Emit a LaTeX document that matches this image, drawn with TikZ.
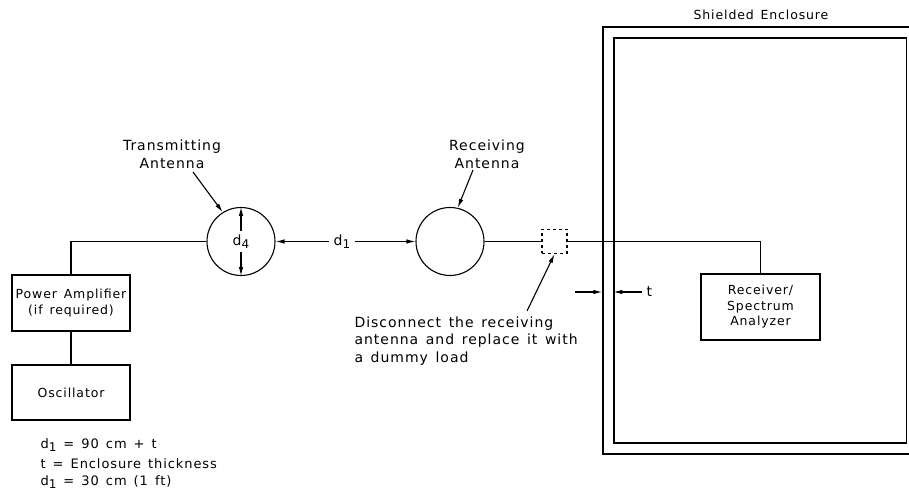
\documentclass[tikz,border=0pt]{standalone}
\usepackage{fontspec}
\setmainfont{DejaVu Sans}[LetterSpace=7,WordSpace=1.4]
\usetikzlibrary{arrows.meta}
\newcommand\mysub[1]{\raisebox{-0.45ex}{\fontsize{12}{12}\selectfont #1}}
\begin{document}
\begin{tikzpicture}[x=1pt,y=-1pt, line width=1.1pt,
  box/.style={draw, rectangle, inner sep=0pt, font=\fontsize{12.5}{15.5}\selectfont, align=center},
  ant/.style={draw, circle, minimum size=68pt, inner sep=0pt},
  encl/.style={draw, rectangle, inner sep=0pt, line width=1.4pt},
  lbl/.style={inner sep=0pt, font=\fontsize{14}{18}\selectfont, align=center},
  frm/.style={inner sep=0pt, font=\fontsize{13}{18}\selectfont, anchor=west},
  arr/.style={-{Latex[length=9pt,width=4.5pt]}},
]
\clip (0,0) rectangle (909,502);
% enclosure
\node[encl, minimum width=312pt, minimum height=427pt] (outer) at (759,240.5) {};
\node[encl, minimum width=292.5pt, minimum height=405pt] (inner) at (760.25,240.5) {};
\node[lbl, font=\fontsize{12.5}{15}\selectfont] (encllbl) at (761,15) {Shielded Enclosure};
% boxes
\node[box, minimum width=118pt, minimum height=56pt] (pa) at (71,303) {Power Amplifier\\(if required)};
\node[box, minimum width=118pt, minimum height=55pt] (osc) at (71,392.5) {Oscillator};
\node[box, minimum width=119pt, minimum height=66pt] (recv) at (760.5,307) {Receiver/\\Spectrum\\Analyzer};
% antennas
\node[ant] (tx) at (241,241.5) {};
\node[ant] (rx) at (450,241.5) {};
\node[draw, dashed, minimum width=25pt, minimum height=24pt, inner sep=0pt] (dummy) at (554.5,241.5) {};
% connections
\draw (pa.north) |- (tx.west);
\draw (pa.south) -- (osc.north);
\draw (rx.east) -- (dummy.west);
\draw (dummy.east) -| (recv.north);
% d4
\node[lbl, inner sep=3pt] (d4) at (tx.center) {d\mysub{4}};
\draw[arr] (d4.north) -- (tx.north);
\draw[arr] (d4.south) -- (tx.south);
% d1
\node[lbl, inner sep=4pt] (d1) at (342,241.5) {d\mysub{1}};
\draw[arr] (d1.west) -- (tx.east);
\draw[arr] (d1.east) -- (rx.west);
% labels
\node[lbl] (txl) at (172,154) {Transmitting\\Antenna};
\coordinate (txa) at (193,172);
\draw[arr] (txa) -- (tx.122);
\node[lbl] (rxl) at (487,154) {Receiving\\Antenna};
\coordinate (rxa) at (473,170);
\draw[arr] (rxa) -- (rx.77);
\node[lbl, align=left, anchor=north west, font=\fontsize{14}{17.5}\selectfont] (disc) at (354,316) {Disconnect the receiving\\antenna and replace it with\\a dummy load};
\coordinate (disca) at (527,311);
\draw[arr] (disca) -- (dummy.south);
% t
\coordinate (ta) at (575,292);
\draw[arr] (ta) -- (ta -| outer.west);
\node[lbl, inner sep=4pt, anchor=west] (tl) at (642,292) {t};
\draw[arr] (tl.west) -- (tl.west -| inner.west);
% formulas
\node[frm] (f1) at (40,445) {d\mysub{1} = 90 cm + t};
\node[frm] (f2) at (40,463.5) {t = Enclosure thickness};
\node[frm] (f3) at (40,482) {d\mysub{1} = 30 cm (1 ft)};
\end{tikzpicture}
\end{document}
